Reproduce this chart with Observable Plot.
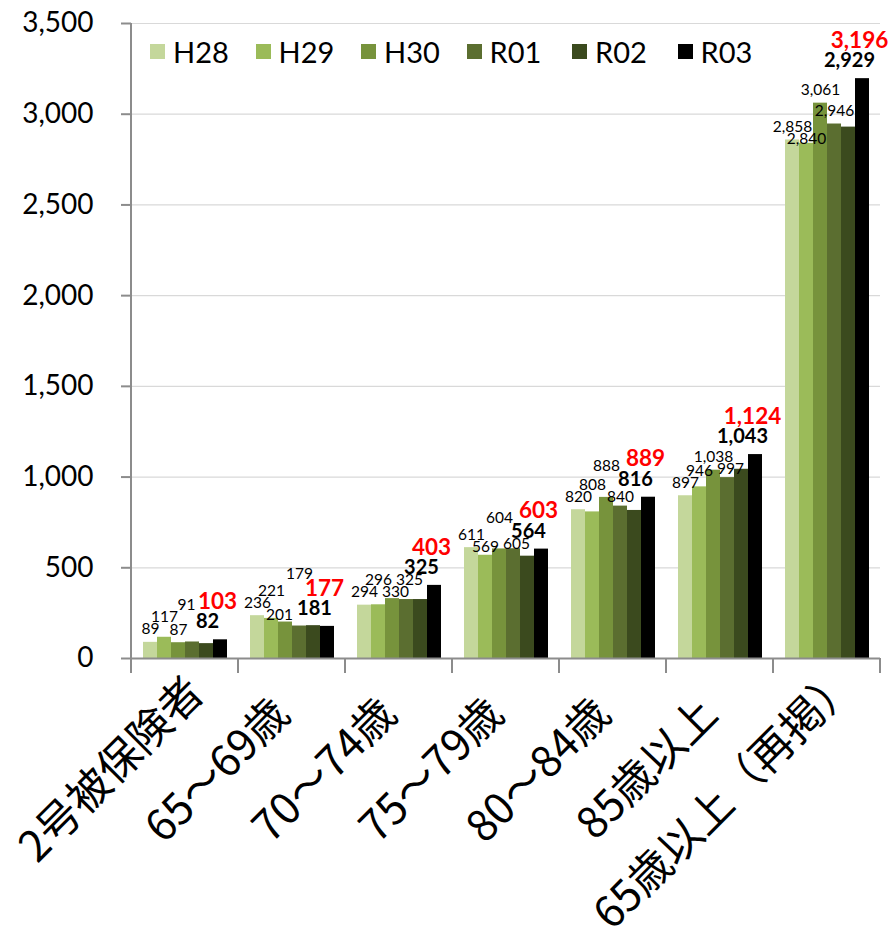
<!DOCTYPE html>
<html lang="ja">
<head>
<meta charset="utf-8">
<script src="https://cdn.jsdelivr.net/npm/d3@7"></script>
<script src="https://cdn.jsdelivr.net/npm/@observablehq/plot@0.6"></script>
<style>
  html, body { margin: 0; padding: 0; background: #fff; }
  #chart { position: relative; width: 894px; height: 943px; overflow: hidden; }
  #legend {
    position: absolute; top: 34px; left: 150px;
    display: flex; font-family: Lato, "Noto Sans CJK JP", sans-serif; font-size: 29px; color: #000;
  }
  #legend .item { display: flex; align-items: center; width: 105.5px; }
  #legend .sw { width: 15px; height: 15px; margin-right: 8px; flex: none; }
</style>
</head>
<body>
<div id="chart"><div id="legend"></div></div>
<script>
// Age groups along the x axis
const categories = ["2号被保険者", "65～69歳", "70～74歳", "75～79歳", "80～84歳", "85歳以上", "65歳以上（再掲）"];
// Fiscal years, one bar each per age group
const seriesNames = ["H28", "H29", "H30", "R01", "R02", "R03"];
const H28 = [89, 236, 294, 611, 820, 897, 2858];
const H29 = [117, 221, 296, 569, 808, 946, 2840];
const H30 = [87, 201, 330, 604, 888, 1038, 3061];
const R01 = [91, 179, 325, 605, 840, 997, 2946];
const R02 = [82, 181, 325, 564, 816, 1043, 2929];
const R03 = [103, 177, 403, 603, 889, 1124, 3196];
const yTicks = [0, 500, 1000, 1500, 2000, 2500, 3000, 3500];
const seriesColors = ["#c4d79b", "#9bbb59", "#77933c", "#5b6e30", "#3b4a1e", "#000000"];

const seriesValues = [H28, H29, H30, R01, R02, R03];
const fmt = d3.format(",");
const latin = "Lato, 'Noto Sans CJK JP', sans-serif";

// Layout
const W = 894, H = 943, ML = 130, MR = 13, MT = 23, MB = 285;
const PO = 0.75; // outer padding of the bar group inside each age group
const yMax = yTicks[yTicks.length - 1];
const k = (H - MT - MB) / yMax;                      // pixels per unit
const facetStep = (W - ML - MR) / categories.length;
const barStep = facetStep / (seriesNames.length + 2 * PO);
const barCenter = j => (PO + j + 0.5) * barStep;
const NORMAL = 15.5, BOLD = 20, RED = 22.5;
const BOLD_DX = -13, RED_DX = -3;
const SHIFTS = [0, -3, 3, -6, 6]; // sideways nudges tried for crowded labels
const GAP = 4;                    // minimum space between labels on one line

// inked width of a label, measured with the font it is drawn in
const ctx = document.createElement("canvas").getContext("2d");
function inkWidth(text, size, weight = "normal") {
  ctx.font = `${weight} ${size}px Lato`;
  const m = ctx.measureText(text);
  return (m.actualBoundingBoxLeft + m.actualBoundingBoxRight) || m.width;
}

// Long table for the bars
const bars = [];
categories.forEach((c, i) => seriesNames.forEach((s, j) =>
  bars.push({category: c, series: s, value: seriesValues[j][i]})));

// Value labels: R02 (bold) and R03 (red) sit above the R03 bar; the other
// years sit above their own bar, stepped up or down to keep clear of each other.
const normalLabels = [], boldLabels = [], redLabels = [];
categories.forEach((c, i) => {
  const box = (cx, cy, w, h) => ({x0: cx - w / 2, x1: cx + w / 2, y0: cy - h / 2, y1: cy + h / 2});
  const hit = (a, b) => Math.min(a.x1, b.x1) - Math.max(a.x0, b.x0) > -GAP &&
                        Math.min(a.y1, b.y1) - Math.max(a.y0, b.y0) > 1.5;
  const top3 = R03[i] * k;
  const bold = {category: c, text: fmt(R02[i]), cy: top3 + 18};
  const red = {category: c, text: fmt(R03[i]), cy: top3 + 38};
  const placed = [
    box(barCenter(5) + BOLD_DX, bold.cy, inkWidth(bold.text, BOLD, "bold"), 14),
    box(barCenter(5) + RED_DX, red.cy, inkWidth(red.text, RED, "bold"), 16)
  ];
  boldLabels.push(bold);
  redLabels.push(red);
  for (let j = 0; j < 4; j++) {
    const v = seriesValues[j][i];
    const text = fmt(v);
    const w = inkWidth(text, NORMAL), h = 12;
    const base = v * k + 13, lowest = v * k + 4;
    let best = null;
    for (const dx of SHIFTS) {
      const cx = barCenter(j) + dx;
      const ys = [base];
      placed.forEach(o => ys.push(o.y1 + h / 2, o.y0 - h / 2));
      for (const cy of ys) {
        if (cy < lowest) continue;
        const b = box(cx, cy, w, h);
        if (placed.some(o => hit(o, b))) continue;
        const cost = Math.abs(cy - base) + 2.5 * Math.abs(dx);
        if (!best || cost < best.cost) best = {cost, cy, dx, b};
      }
    }
    placed.push(best.b);
    normalLabels.push({category: c, series: seriesNames[j], text, cy: best.cy, dx: best.dx});
  }
});

const plot = Plot.plot({
  width: W, height: H,
  marginLeft: ML, marginRight: MR, marginTop: MT, marginBottom: MB,
  style: {fontFamily: latin, background: "#fff", color: "#000", overflow: "visible"},
  fx: {domain: categories, padding: 0, axis: null, label: null},
  x: {domain: seriesNames, paddingInner: 0, paddingOuter: PO, axis: null, label: null},
  y: {domain: [0, yMax], axis: null, label: null},
  color: {domain: seriesNames, range: seriesColors},
  marks: [
    Plot.gridY(yTicks.slice(1), {stroke: "#d9d9d9", strokeOpacity: 1, strokeWidth: 1.2}),
    Plot.barY(bars, {fx: "category", x: "series", y: "value", fill: "series", inset: 0}),
    Plot.ruleY([0], {stroke: "#8c8c8c", strokeWidth: 2}),
    Plot.axisY({ticks: yTicks, tickFormat: d => fmt(d), label: null, fontSize: 28,
      tickSize: 10, tickPadding: 28, stroke: "#8c8c8c", strokeWidth: 2, fill: "#000"}),
    ...SHIFTS.map(dx => Plot.text(normalLabels.filter(d => d.dx === dx), {
      fx: "category", x: "series", y: d => d.cy / k, text: "text", dx,
      fontSize: NORMAL, fill: "#000"})),
    Plot.text(boldLabels, {fx: "category", x: () => "R03", y: d => d.cy / k, text: "text",
      dx: BOLD_DX, fontSize: BOLD, fontWeight: "bold", fill: "#000"}),
    Plot.text(redLabels, {fx: "category", x: () => "R03", y: d => d.cy / k, text: "text",
      dx: RED_DX, fontSize: RED, fontWeight: "bold", fill: "#ff0000"}),
    Plot.text(categories, {fx: d => d, text: d => d, frameAnchor: "bottom", dy: 58,
      rotate: -45, textAnchor: "end", fontSize: 43, fill: "#000",
      fontFamily: "'Noto Sans CJK JP', sans-serif"})
  ]
});

// Axis lines: the value axis and the tick marks between age groups
const svg = d3.select(plot);
const fxScale = plot.scale("fx");
const yScale = plot.scale("y");
const y0 = yScale.apply(0), yTop = yScale.apply(yMax);
const edges = categories.map(c => fxScale.apply(c));
edges.push(fxScale.apply(categories[categories.length - 1]) + fxScale.bandwidth);
const axisG = svg.append("g").attr("stroke", "#8c8c8c").attr("stroke-width", 2);
axisG.append("line").attr("x1", edges[0]).attr("x2", edges[0]).attr("y1", yTop).attr("y2", y0 + 15);
edges.slice(1).forEach(x => axisG.append("line").attr("x1", x).attr("x2", x).attr("y1", y0).attr("y2", y0 + 15));

document.getElementById("chart").prepend(plot);

// Slide any rotated group label that runs past the bottom or left edge back along its baseline
const svgBox = plot.getBoundingClientRect();
svg.selectAll("text").filter(function() { return categories.includes(this.textContent); })
  .each(function() {
    const r = this.getBoundingClientRect();
    const over = Math.max(r.bottom - svgBox.top - (H - 3), svgBox.left + 2 - r.left, 0);
    if (over > 0) {
      const t = this.getAttribute("transform") || "";
      this.setAttribute("transform", `translate(${over},${-over}) ${t}`);
    }
  });

// Legend
const legend = d3.select("#legend");
seriesNames.forEach((s, j) => {
  const item = legend.append("div").attr("class", "item");
  item.append("div").attr("class", "sw").style("background", seriesColors[j]);
  item.append("span").text(s);
});
</script>
</body>
</html>
